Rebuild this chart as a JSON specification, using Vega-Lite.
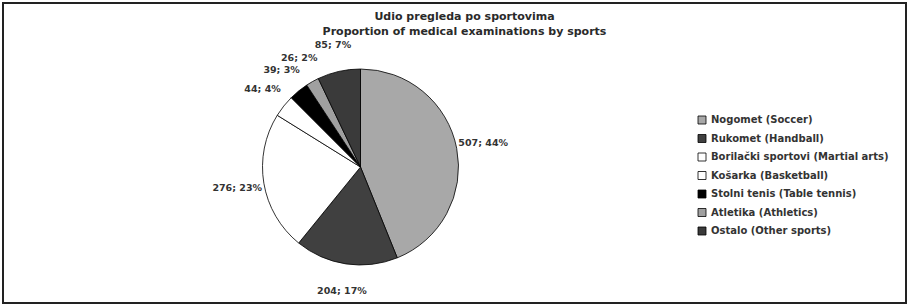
{
  "$schema": "https://vega.github.io/schema/vega-lite/v6.json",
  "width": 903,
  "height": 300,
  "padding": 3,
  "autosize": "none",
  "background": "white",
  "view": {"stroke": "#222", "strokeWidth": 2, "fill": "white"},
  "title": {
    "text": ["Udio pregleda po sportovima", "Proportion of medical examinations by sports"],
    "anchor": "middle",
    "frame": "group",
    "offset": -34,
    "dx": 10,
    "font": "DejaVu Sans",
    "fontSize": 11,
    "fontWeight": "bold",
    "lineHeight": 15,
    "color": "#2a2a2a"
  },
  "data": {
    "values": [
      {"sport": "Nogomet  (Soccer)", "value": 527, "label": "507; 44%", "order": 1},
      {"sport": "Rukomet (Handball)", "value": 204, "label": "204; 17%", "order": 2},
      {"sport": "Borilački sportovi  (Martial arts)", "value": 276, "label": "276; 23%", "order": 3},
      {"sport": "Košarka (Basketball)", "value": 44, "label": "44; 4%", "order": 4},
      {"sport": "Stolni tenis (Table tennis)", "value": 39, "label": "39; 3%", "order": 5},
      {"sport": "Atletika (Athletics)", "value": 26, "label": "26; 2%", "order": 6},
      {"sport": "Ostalo (Other sports)", "value": 85, "label": "85; 7%", "order": 7}
    ]
  },
  "encoding": {
    "theta": {"field": "value", "type": "quantitative", "stack": true},
    "order": {"field": "order", "type": "quantitative"}
  },
  "layer": [
    {
      "mark": {"type": "arc", "outerRadius": 98, "stroke": "#000", "strokeWidth": 0.8, "xOffset": -94, "yOffset": 14},
      "encoding": {
        "color": {
          "field": "sport",
          "type": "nominal",
          "sort": null,
          "scale": {
            "domain": ["Nogomet  (Soccer)", "Rukomet (Handball)", "Borilački sportovi  (Martial arts)", "Košarka (Basketball)", "Stolni tenis (Table tennis)", "Atletika (Athletics)", "Ostalo (Other sports)"],
            "range": ["#a8a8a8", "#404040", "#ffffff", "#ffffff", "#000000", "#a0a0a0", "#3a3a3a"]
          },
          "legend": {
            "title": null,
            "orient": "none",
            "legendX": 694,
            "legendY": 112,
            "symbolType": "square",
            "symbolSize": 64,
            "symbolStrokeColor": "#000",
            "symbolStrokeWidth": 0.8,
            "labelFont": "DejaVu Sans",
            "labelFontSize": 10,
            "labelFontWeight": "bold",
            "labelColor": "#333",
            "labelOffset": 4,
            "rowPadding": 6.5,
            "padding": 0,
            "labelLimit": 300
          }
        }
      }
    },
    {
      "mark": {"type": "text", "radius": 125, "xOffset": -94, "yOffset": 14, "font": "DejaVu Sans", "fontSize": 9.5, "fontWeight": "bold", "color": "#333"},
      "encoding": {
        "text": {"field": "label", "type": "nominal"}
      }
    }
  ]
}
